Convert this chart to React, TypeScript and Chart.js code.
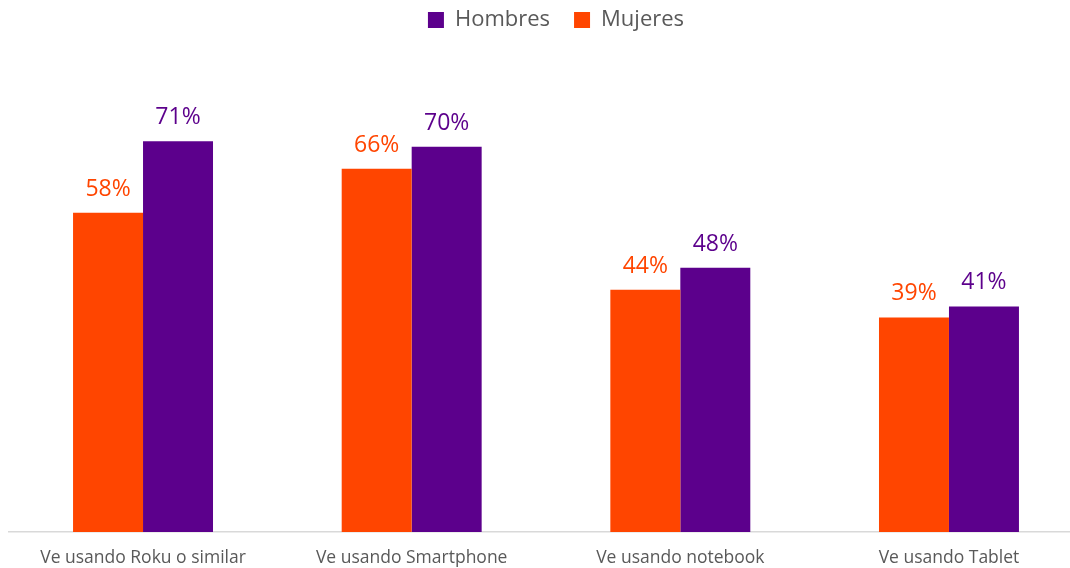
import React, { useEffect, useRef } from "react";
import { Chart, registerables } from "chart.js";

Chart.register(...registerables);

const categories = [
  "Ve usando Roku o similar",
  "Ve usando Smartphone",
  "Ve usando notebook",
  "Ve usando Tablet",
];
const mujeres = [58, 66, 44, 39];
const hombres = [71, 70, 48, 41];
const seriesNames = ["Mujeres", "Hombres"];
const colorMujeres = "#FF4500";
const colorHombres = "#5C008C";

const labelPlugin = {
  id: "valueLabels",
  afterLayout(chart: any) {
    const lg = chart.legend;
    if (lg) {
      lg.left += 10;
      lg.right += 10;
      lg.top -= 15;
      lg.bottom -= 15;
    }
  },
  afterDatasetsDraw(chart: any) {
    const ctx = chart.ctx;
    ctx.save();
    ctx.font = "23px 'Open Sans', sans-serif";
    ctx.textAlign = "center";
    ctx.textBaseline = "alphabetic";
    chart.data.datasets.forEach((ds: any, i: number) => {
      const meta = chart.getDatasetMeta(i);
      meta.data.forEach((el: any, j: number) => {
        ctx.fillStyle = ds.backgroundColor;
        ctx.fillText(ds.data[j] + "%", el.x, el.y - 17);
      });
    });
    ctx.restore();
  },
};

export default function App() {
  const ref = useRef<HTMLCanvasElement>(null);
  useEffect(() => {
    if (!ref.current) return;
    const chart = new Chart(ref.current, {
      type: "bar",
      data: {
        labels: categories,
        datasets: [
          { label: seriesNames[0], data: mujeres, backgroundColor: colorMujeres },
          { label: seriesNames[1], data: hombres, backgroundColor: colorHombres },
        ],
      },
      options: {
        responsive: false,
        animation: false,
        layout: { padding: { left: 8.7, right: 8.7, top: 0, bottom: -17 } },
        datasets: {
          bar: { categoryPercentage: 0.521, barPercentage: 1 },
        } as any,
        plugins: {
          legend: {
            reverse: true,
            position: "top",
            labels: {
              boxWidth: 16,
              boxHeight: 16,
              color: "#595959",
              font: { size: 22, family: "'Open Sans', sans-serif" },
              padding: 24,
            },
          },
          tooltip: { enabled: false },
        },
        scales: {
          x: {
            grid: { display: false, drawTicks: false },
            border: { display: true, color: "#D9D9D9", width: 1.5 },
            ticks: {
              color: "#595959",
              font: { size: 17.5, family: "'Open Sans', sans-serif" },
              padding: 16,
              maxRotation: 0,
            },
          },
          y: {
            display: false,
            min: 0,
            max: 86.5,
          },
        },
      },
      plugins: [labelPlugin],
    });
    return () => chart.destroy();
  }, []);
  return (
    <div
      style={{
        position: "absolute",
        left: 0,
        top: 0,
        width: 1070,
        height: 568,
        overflow: "hidden",
        background: "#fff",
      }}
    >
      <canvas ref={ref} width={1092} height={568} />
    </div>
  );
}
